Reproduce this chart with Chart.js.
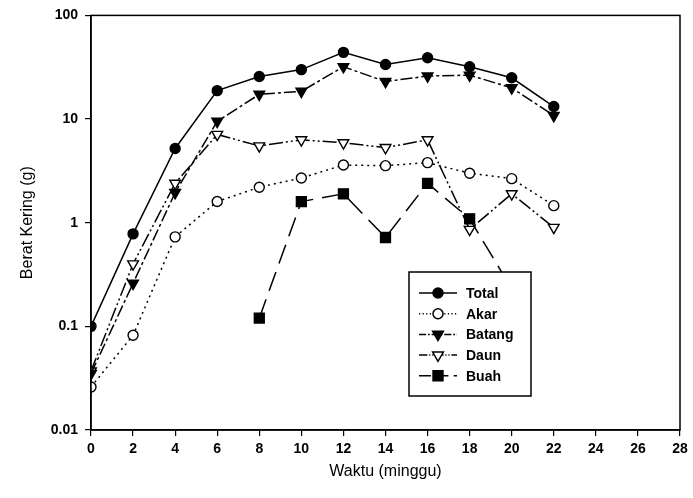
<!DOCTYPE html>
<html>
<head>
<meta charset="utf-8">
<script src="https://cdn.jsdelivr.net/npm/chart.js@4.4.1/dist/chart.umd.min.js"></script>
<style>
  html, body { margin: 0; padding: 0; background: #fff; }
  #wrap { width: 693px; height: 498px; }
</style>
</head>
<body>
<div id="wrap"><canvas id="c" width="693" height="498"></canvas></div>
<script>
// weeks (x) and dry weight in grams per plant part
let weeks  = [0, 2, 4, 6, 8, 10, 12, 14, 16, 18, 20, 22];
let total  = [0.1, 0.78, 5.2, 18.8, 25.7, 30, 44, 33.6, 39, 32, 25, 13.2];
let akar   = [0.026, 0.082, 0.73, 1.6, 2.2, 2.7, 3.6, 3.55, 3.8, 3.0, 2.66, 1.46];
let batang = [0.035, 0.26, 1.95, 9.5, 17.3, 18.5, 32, 23, 26, 26.5, 20, 10.8];
let daun   = [0.037, 0.40, 2.4, 7.1, 5.5, 6.3, 5.9, 5.3, 6.3, 0.86, 1.9, 0.9];
let buah   = [null, null, null, null, 0.12, 1.6, 1.9, 0.72, 2.4, 1.09, 0.23, null];
let yTicks = [0.01, 0.1, 1, 10, 100];
let xTicks = [0, 2, 4, 6, 8, 10, 12, 14, 16, 18, 20, 22, 24, 26, 28];

let pts = arr => weeks.map((w, i) => ({ x: w, y: arr[i] })).filter(p => p.y !== null);
let font = 'Liberation Sans, Arial, sans-serif';

let series = (label, arr, style, fill, dash, radius, rot) => ({
    label: label,
    data: pts(arr),
    borderColor: '#000',
    borderWidth: 1.5,
    borderDash: dash,
    pointStyle: style,
    pointRotation: rot || 0,
    pointRadius: radius,
    pointBorderWidth: 1.4,
    pointBackgroundColor: fill,
    pointBorderColor: '#000',
    tension: 0,
    spanGaps: false
});

let datasets = [
    series('Total', total, 'circle', '#000', [], 5),
    series('Akar', akar, 'circle', '#fff', [2, 4], 5),
    series('Batang', batang, 'triangle', '#000', [12, 3, 3, 3], 6.2, 180),
    series('Daun', daun, 'triangle', '#fff', [14, 3, 2, 3, 2, 3], 6.2, 180),
    series('Buah', buah, 'rect', '#000', [20, 9], 7)
];

// frame around plot + boxed legend drawn on top of the lines
let framePlugin = {
    id: 'frame',
    afterDatasetsDraw(chart) {
        let ctx = chart.ctx, a = chart.chartArea;
        ctx.save();
        ctx.strokeStyle = '#000';
        ctx.lineWidth = 1.5;
        ctx.strokeRect(a.left, a.top, a.right - a.left, a.bottom - a.top);

        let bx = 409, by = 272, bw = 122, bh = 124;
        ctx.fillStyle = '#fff';
        ctx.fillRect(bx, by, bw, bh);
        ctx.strokeRect(bx, by, bw, bh);
        chart.data.datasets.forEach((ds, i) => {
            let y = 293 + i * 20.7;
            ctx.setLineDash(ds.borderDash.length ? ds.borderDash.map(v => v * 0.6) : []);
            ctx.lineWidth = 1.5;
            ctx.beginPath();
            ctx.moveTo(419, y);
            ctx.lineTo(457, y);
            ctx.stroke();
            ctx.setLineDash([]);
            ctx.fillStyle = ds.pointBackgroundColor;
            ctx.strokeStyle = '#000';
            Chart.helpers.drawPoint(ctx, {
                pointStyle: ds.pointStyle,
                rotation: ds.pointRotation,
                radius: ds.pointRadius,
                borderWidth: 1.4
            }, 438, y);
            ctx.fillStyle = '#000';
            ctx.font = 'bold 14px ' + font;
            ctx.textAlign = 'left';
            ctx.textBaseline = 'middle';
            ctx.fillText(ds.label, 466, y + 1);
        });
        ctx.restore();
    }
};

new Chart(document.getElementById('c'), {
    type: 'line',
    data: { datasets: datasets },
    plugins: [framePlugin],
    options: {
        responsive: false,
        animation: false,
        layout: { padding: { top: 15, right: 13, left: 0, bottom: 0 } },
        plugins: { legend: { display: false }, tooltip: { enabled: false } },
        scales: {
            x: {
                type: 'linear',
                min: 0,
                max: 28,
                afterBuildTicks: s => { s.ticks = xTicks.map(v => ({ value: v })); },
                afterFit: s => { s.height = 68; },
                ticks: {
                    color: '#000',
                    padding: 5,
                    font: { family: font, size: 14, weight: 'bold' },
                    callback: v => String(v)
                },
                grid: { drawOnChartArea: false, drawTicks: true, tickLength: 6, color: '#000', lineWidth: 1.2 },
                border: { display: true, color: '#000', width: 1.5 },
                title: {
                    display: true,
                    text: 'Waktu (minggu)',
                    color: '#000',
                    font: { family: font, size: 16 },
                    padding: { top: 0, bottom: 17 }
                }
            },
            y: {
                type: 'logarithmic',
                min: 0.01,
                max: 100,
                afterBuildTicks: s => { s.ticks = yTicks.map(v => ({ value: v })); },
                afterFit: s => { s.width = 91; },
                ticks: {
                    color: '#000',
                    padding: 7,
                    font: { family: font, size: 14, weight: 'bold' },
                    callback: v => String(v)
                },
                grid: { drawOnChartArea: false, drawTicks: true, tickLength: 6, color: '#000', lineWidth: 1.2 },
                border: { display: true, color: '#000', width: 1.5 },
                title: {
                    display: true,
                    text: 'Berat Kering (g)',
                    color: '#000',
                    font: { family: font, size: 16 },
                    padding: { top: 18, bottom: 0 }
                }
            }
        }
    }
});
</script>
</body>
</html>
